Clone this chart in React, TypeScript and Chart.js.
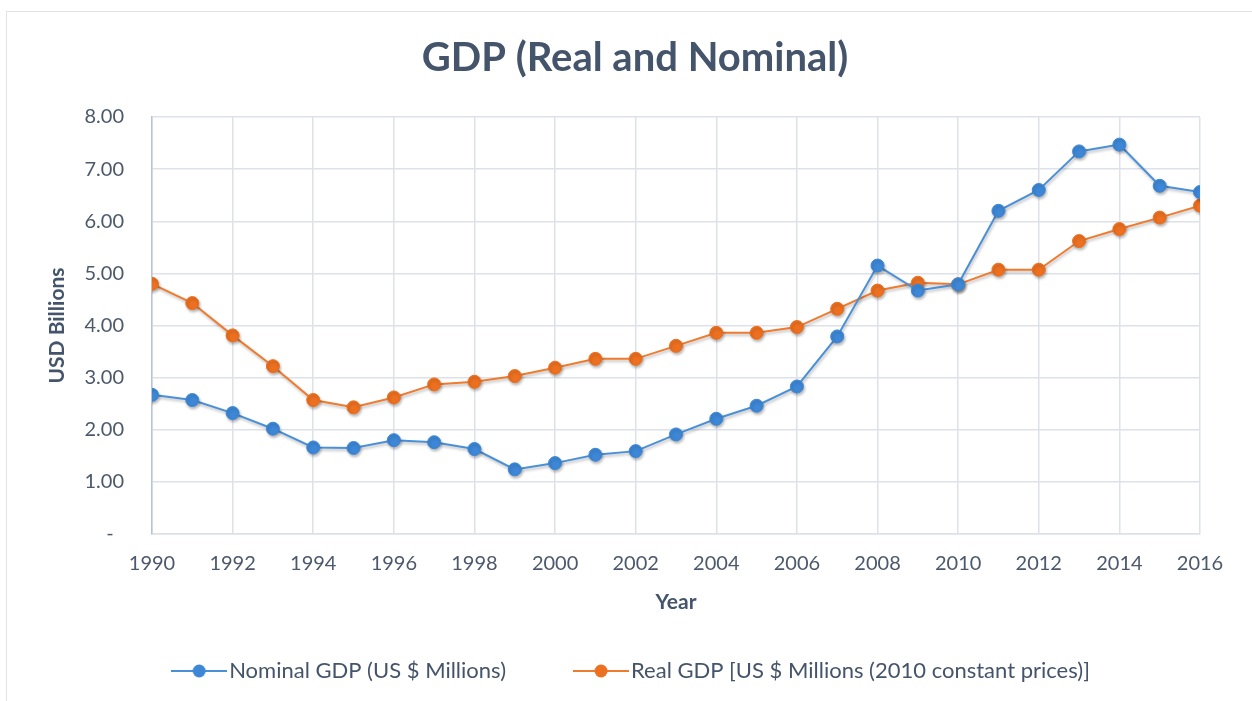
import React, { useEffect, useRef } from 'react';
import { Chart, registerables } from 'chart.js';

Chart.register(...registerables);

const years = [1990, 1991, 1992, 1993, 1994, 1995, 1996, 1997, 1998, 1999, 2000, 2001, 2002, 2003, 2004, 2005, 2006, 2007, 2008, 2009, 2010, 2011, 2012, 2013, 2014, 2015, 2016];
const nominalGdp = [2.67, 2.57, 2.32, 2.02, 1.66, 1.65, 1.80, 1.76, 1.63, 1.24, 1.36, 1.52, 1.59, 1.91, 2.21, 2.46, 2.83, 3.79, 5.15, 4.67, 4.79, 6.20, 6.60, 7.34, 7.47, 6.68, 6.56];
const realGdp = [4.80, 4.43, 3.81, 3.22, 2.57, 2.43, 2.62, 2.87, 2.92, 3.03, 3.19, 3.36, 3.36, 3.61, 3.86, 3.86, 3.97, 4.32, 4.67, 4.82, 4.79, 5.07, 5.07, 5.62, 5.85, 6.07, 6.30];
const seriesLabels = ['Nominal GDP (US $ Millions)', 'Real GDP [US $ Millions (2010 constant prices)]'];
const chartTitle = 'GDP (Real and Nominal)';
const xAxisTitle = 'Year';
const yAxisTitle = 'USD Billions';

const FONT = 'Lato, "Open Sans", sans-serif';
const BLUE_LINE = '#4a90d9';
const BLUE_MARK = '#3d87d6';
const ORANGE_LINE = '#ef7b2e';
const ORANGE_MARK = '#ec7020';
const TEXT = '#44546a';
const TICK = '#4c586c';
const GRID = '#dde1e9';

function legendImage(line: string, mark: string): HTMLCanvasElement {
  const c = document.createElement('canvas');
  c.width = 56;
  c.height = 16;
  const ctx = c.getContext('2d')!;
  ctx.strokeStyle = line;
  ctx.lineWidth = 2;
  ctx.beginPath();
  ctx.moveTo(0, 8);
  ctx.lineTo(56, 8);
  ctx.stroke();
  ctx.fillStyle = mark;
  ctx.beginPath();
  ctx.arc(28, 8, 6.5, 0, Math.PI * 2);
  ctx.fill();
  return c;
}

const shadowPlugin = {
  id: 'markerShadow',
  beforeDatasetsDraw(chart: any) {
    const ctx = chart.ctx;
    ctx.save();
    ctx.shadowColor = 'rgba(0,0,0,0.28)';
    ctx.shadowBlur = 3;
    ctx.shadowOffsetX = 1;
    ctx.shadowOffsetY = 2;
  },
  afterDatasetsDraw(chart: any) {
    chart.ctx.restore();
  },
};

export default function App() {
  const ref = useRef<HTMLCanvasElement | null>(null);

  useEffect(() => {
    if (!ref.current) return;
    const imgs = [legendImage(BLUE_LINE, BLUE_MARK), legendImage(ORANGE_LINE, ORANGE_MARK)];
    const chart = new Chart(ref.current, {
      type: 'line',
      data: {
        datasets: [
          {
            label: seriesLabels[0],
            data: years.map((x, i) => ({ x, y: nominalGdp[i] })),
            borderColor: BLUE_LINE,
            backgroundColor: BLUE_MARK,
            pointBackgroundColor: BLUE_MARK,
            pointBorderColor: BLUE_MARK,
            borderWidth: 2,
            pointRadius: 6.5,
            pointBorderWidth: 1,
            tension: 0,
          },
          {
            label: seriesLabels[1],
            data: years.map((x, i) => ({ x, y: realGdp[i] })),
            borderColor: ORANGE_LINE,
            backgroundColor: ORANGE_MARK,
            pointBackgroundColor: ORANGE_MARK,
            pointBorderColor: ORANGE_MARK,
            borderWidth: 2,
            pointRadius: 6.5,
            pointBorderWidth: 1,
            tension: 0,
          },
        ],
      },
      options: {
        animation: false,
        responsive: false,
        maintainAspectRatio: false,
        layout: { padding: { left: 18, right: 0, top: 0, bottom: 9 } },
        plugins: {
          title: {
            display: true,
            text: chartTitle,
            color: TEXT,
            font: { family: FONT, size: 40, weight: 'bold' },
            padding: { top: 34.5, bottom: 34.5 },
          },
          legend: {
            display: true,
            position: 'bottom',
            labels: {
              usePointStyle: true,
              pointStyleWidth: 38,
              padding: 76,
              color: TEXT,
              font: { family: FONT, size: 22 },
              generateLabels: (c: any) =>
                c.data.datasets.map((ds: any, i: number) => ({
                  text: ds.label,
                  pointStyle: imgs[i],
                  fillStyle: ds.backgroundColor,
                  strokeStyle: ds.borderColor,
                  lineWidth: 0,
                  hidden: false,
                  datasetIndex: i,
                  fontColor: TEXT,
                })),
            },
          },
          tooltip: { enabled: false },
        },
        scales: {
          x: {
            type: 'linear',
            position: 'bottom',
            min: 1990,
            max: 2016,
            afterFit: (s: any) => {
              s.height = 50;
            },
            ticks: {
              stepSize: 2,
              color: TICK,
              padding: 18,
              maxRotation: 0,
              font: { family: FONT, size: 20 },
              callback: (v: any) => String(v),
            },
            grid: { color: GRID, lineWidth: 1.5, drawTicks: false },
            border: { color: GRID, width: 1.5 },
            title: {
              display: true,
              text: xAxisTitle,
              color: TEXT,
              font: { family: FONT, size: 21, weight: 'bold' },
              padding: { top: 0, bottom: -30.6 },
            },
          },
          y: {
            type: 'linear',
            position: 'left',
            min: 0,
            max: 8,
            afterFit: (s: any) => {
              s.width = 134;
            },
            ticks: {
              stepSize: 1,
              color: TICK,
              padding: 28,
              font: { family: FONT, size: 20 },
              callback: (v: any) => (Number(v) === 0 ? '-  ' : Number(v).toFixed(2)),
            },
            grid: { color: GRID, lineWidth: 1.5, drawTicks: false },
            border: { color: '#b9c3d6', width: 1.5 },
            title: {
              display: true,
              text: yAxisTitle,
              color: TEXT,
              font: { family: FONT, size: 21, weight: 'bold' },
              padding: { top: 26.4, bottom: 0 },
            },
          },
          yRight: {
            type: 'linear',
            position: 'right',
            display: true,
            min: 0,
            max: 8,
            afterFit: (s: any) => {
              s.width = 52;
            },
            ticks: { display: false },
            grid: { display: false, drawTicks: false },
            border: { display: false },
          },
        },
      },
      plugins: [shadowPlugin],
    } as any);
    return () => chart.destroy();
  }, []);

  return (
    <div style={{ position: 'absolute', left: 0, top: 0, width: 1252, height: 701, background: '#ffffff', overflow: 'hidden' }}>
      <div
        style={{
          position: 'absolute',
          left: 6,
          top: 11,
          width: 1300,
          height: 760,
          border: '1px solid #dfe2e7',
          boxSizing: 'border-box',
        }}
      />
      <canvas ref={ref} width={1252} height={701} style={{ position: 'absolute', left: 0, top: 0, width: 1252, height: 701 }} />
    </div>
  );
}
